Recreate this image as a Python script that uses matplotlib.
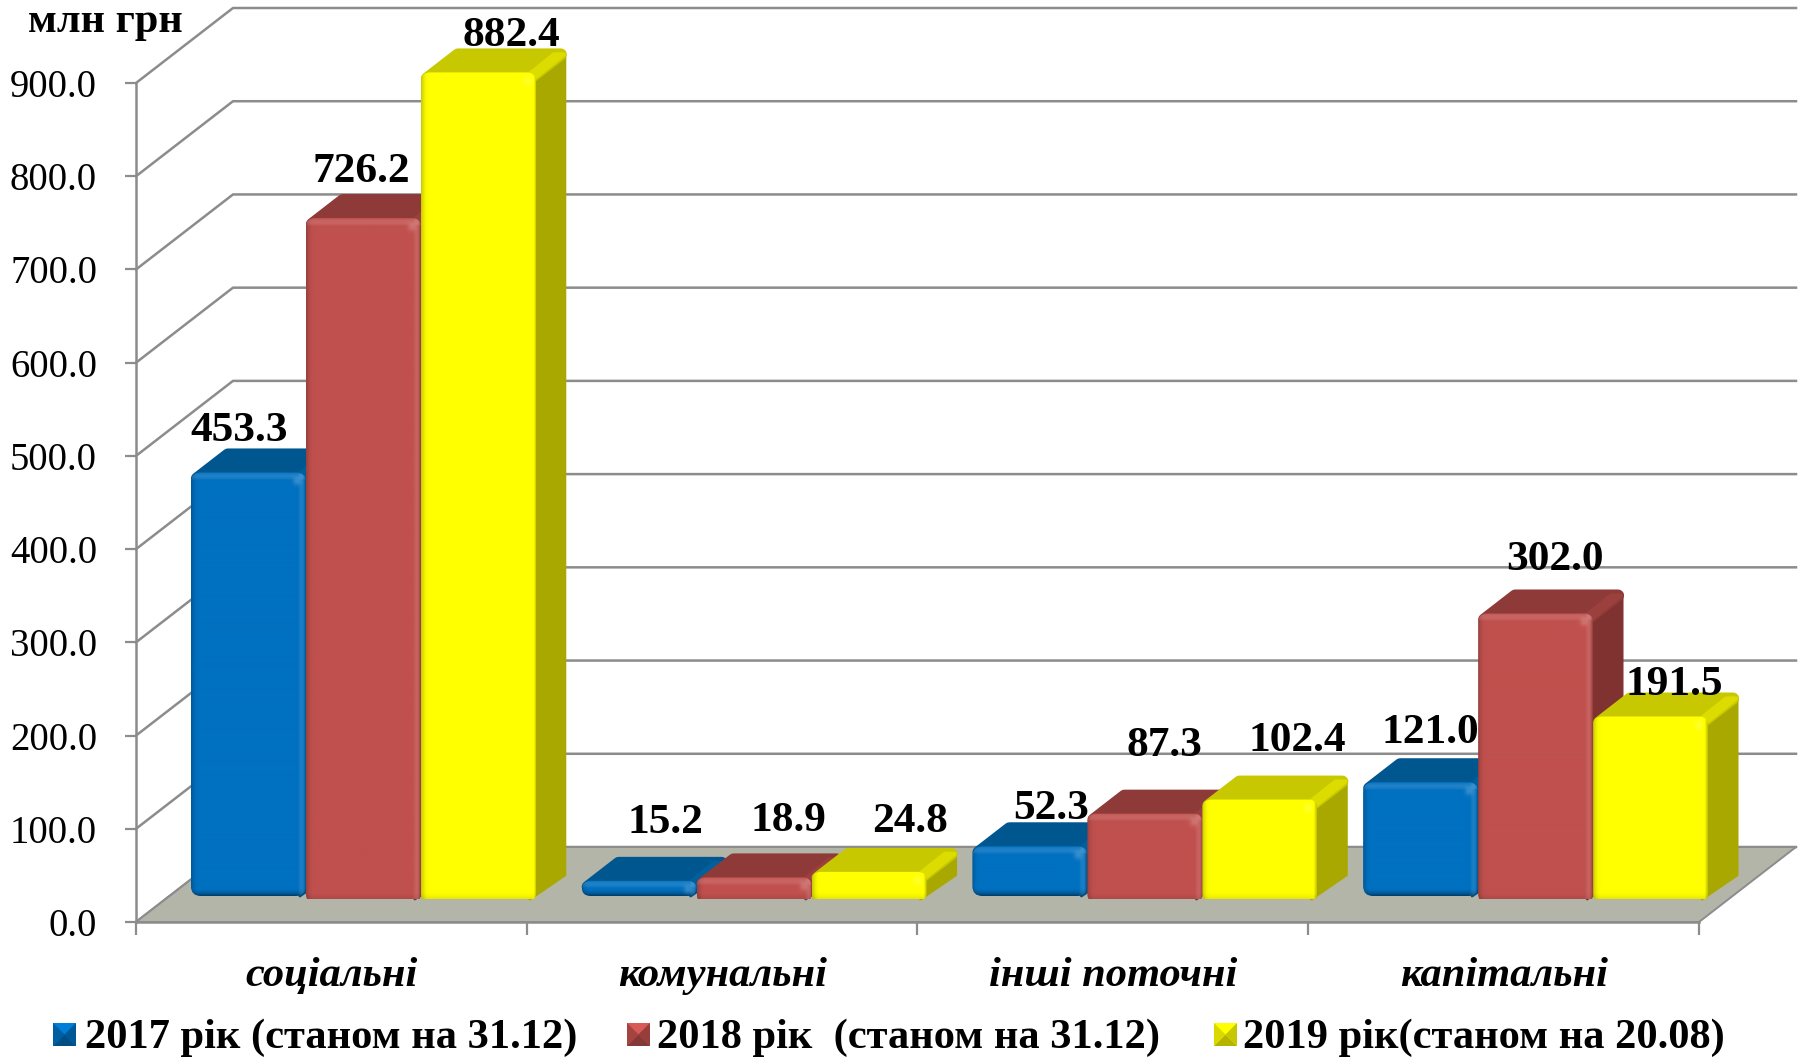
# -*- coding: utf-8 -*-
# bar chart with fake 3D bevelled columns, mln UAH by spending type
import numpy as np
import matplotlib
matplotlib.use('Agg')
import matplotlib.pyplot as plt
from matplotlib.patches import FancyBboxPatch, Polygon

categories = ['соціальні', 'комунальні', 'інші поточні', 'капітальні']
series_names = ['2017 рік (станом на 31.12)', '2018 рік  (станом на 31.12)', '2019 рік(станом на 20.08)']
values_2017 = [453.3, 15.2, 52.3, 121.0]
values_2018 = [726.2, 18.9, 87.3, 302.0]
values_2019 = [882.4, 24.8, 102.4, 191.5]
y_ticks = [0, 100, 200, 300, 400, 500, 600, 700, 800, 900]

# colours: front, top face, side face
colors = [('#0070C0', '#00568F', '#004F85'),
          ('#C0504D', '#8E3A38', '#7F3230'),
          ('#FFFF00', '#C8C800', '#A8A800')]
grid_color = '#8C8C8C'
floor_color = '#B2B5A7'

# label offsets from the top of each bar, in pixels (moved by hand in the original)
label_offsets = [[(-9, 35), (26, 52), (21, 31), (10, 43)],
                 [(-2, 40), (34, 50), (20, 62), (19, 47)],
                 [(33, 30), (41, 44), (37, 53), (24, 25)]]

plt.rcParams['font.family'] = ['Liberation Serif', 'DejaVu Serif']

W, H = 1806, 1058
AX_RIGHT = 1699
fig = plt.figure(figsize=(W / 100, H / 100), dpi=100)
ax = fig.add_axes([136 / W, 1 - 922 / H, (AX_RIGHT - 136) / W, (922 - 83) / H])
ax.set_xlim(0, 4)
ax.set_ylim(0, 900)
ax.autoscale(False)
ax.patch.set_alpha(0)

# pixel sizes expressed in data units
px_x = 4 / (AX_RIGHT - 136)
px_y = 900 / (922 - 83)
depth_x = 97 * px_x
depth_y = 75 * px_y
bar_w = 115 * px_x
front_x = 32 * px_x
front_y = 23 * px_y


def to_data(x, y):
    # figure pixels (from top left) to data values
    return (x - 136) * px_x, (922 - y) * px_y


# walls and floor
for v in y_ticks:
    ax.plot([0, depth_x, 4 + depth_x], [v, v + depth_y, v + depth_y], color=grid_color,
            lw=1.8, zorder=1, clip_on=False)
ax.add_patch(Polygon([(0, 0), (4, 0), (4 + depth_x, depth_y), (depth_x, depth_y)], closed=True,
                     fc=floor_color, ec=grid_color, lw=1.4, zorder=2, clip_on=False))

ax.spines[['top', 'right']].set_visible(False)
ax.spines[['left', 'bottom']].set_color(grid_color)
ax.spines[['left', 'bottom']].set_linewidth(1.8)
ax.spines[['left', 'bottom']].set_zorder(3)
ax.set_yticks(y_ticks)
ax.set_yticklabels(['%.1f' % v for v in y_ticks], fontsize=27.8)
ax.tick_params(axis='y', length=8, width=1.6, color=grid_color, pad=20)
ax.set_xticks(range(5))
ax.set_xticklabels([])
ax.tick_params(axis='x', which='major', length=9, width=1.6, color=grid_color)
ax.set_xticks([0.5, 1.5, 2.5, 3.5], minor=True)
ax.set_xticklabels(categories, minor=True, fontsize=30.6, fontweight='bold', fontstyle='italic')
ax.tick_params(axis='x', which='minor', length=0, pad=25)


def shift(hex_color, factor):
    rgb = np.array(matplotlib.colors.to_rgb(hex_color))
    return np.clip(rgb * factor, 0, 1)


def front_face(x0, x1, y0, y1, color, z, soft):
    # bevelled front of a column, drawn as a shaded image clipped to a rounded box
    w = max(int((x1 - x0) / px_x), 2)
    h = max(int((y1 - y0) / px_y), 2)
    xx, yy = np.meshgrid(np.arange(w) + 0.5, np.arange(h) + 0.5)
    bevel = min(8, h / 2)
    left = np.clip(1 - xx / bevel, 0, 1)
    right = np.clip(1 - (w - xx) / bevel, 0, 1)
    top = np.clip(1 - yy / bevel, 0, 1)
    bottom = np.clip(1 - (h - yy) / bevel, 0, 1)
    base = np.array(matplotlib.colors.to_rgb(color))
    glow = 0.0 if color == '#FFFF00' else 1.0
    dark = 0.22 * left ** 2 + (0.5 if soft else 0.1) * bottom ** 2
    light = glow * (0.12 * top * (1 - top) * 4 + 0.1 * right * (1 - right) * 4)
    dark = dark + 0.25 * np.clip(right - 0.6, 0, 1) / 0.4
    spot = np.exp(-(((xx - (w - 9)) / 4) ** 2 + ((yy - 9) / 4) ** 2))
    light = light + 0.2 * spot
    img = base[None, None, :] * (1 - np.clip(dark, 0, 1))[..., None]
    img = img + (1 - img) * np.clip(light, 0, 1)[..., None]
    im = ax.imshow(img, extent=(x0, x1, y0, y1), origin='upper', aspect='auto',
                   interpolation='bilinear', zorder=z)
    r = min(10 if soft else 9, (h + 3) / 2)
    # square columns sit on the floor: box runs a bit below the image so the foot stays flatter
    drop = 0 if soft else 4 * px_y
    box = FancyBboxPatch((x0, y0 - drop), x1 - x0, y1 - y0 + drop,
                         boxstyle='round,pad=0,rounding_size=%f' % (r * px_x),
                         mutation_aspect=px_y / px_x, fc='none', ec='none',
                         transform=ax.transData, zorder=z, clip_on=False)
    ax.add_patch(box)
    # last column runs past the axes box, so only the rounded shape may clip it
    im.set_clip_box(fig.bbox)
    im.set_clip_path(box)


def column(xc, value, cols, z, soft):
    x0, x1 = xc - bar_w / 2, xc + bar_w / 2
    base = front_y + (3 * px_y if soft else 0)
    # rounded top edge sits slightly above the nominal height
    top = front_y + value + 4 * px_y
    dx, dy = 31 * px_x, 24 * px_y
    rx, ry = 6 * px_x, 6 * px_y
    # side face
    ax.add_patch(Polygon([(x1 - rx, top - ry), (x1 + dx - rx / 3, top + dy - ry), (x1 + dx - rx / 3, base + dy),
                          (x1 - rx, base)], closed=True, fc=cols[2], ec=cols[2], lw=2,
                         joinstyle='round', zorder=z, clip_on=False))
    # top face with a lighter band along the right edge
    ax.add_patch(Polygon([(x0 + rx, top - ry), (x0 + dx + rx, top + dy - ry), (x1 + dx - rx, top + dy - ry),
                          (x1 - rx, top - ry)], closed=True, fc=cols[1], ec=cols[1], lw=8.6,
                         joinstyle='round', zorder=z + 0.1, clip_on=False))
    band = shift(cols[1], 1.1)
    ax.add_patch(Polygon([(x1 - 12 * px_x, top - ry), (x1 - 2 * px_x, top - ry),
                          (x1 + dx - 3 * px_x, top + dy - ry), (x1 + dx - 13 * px_x, top + dy - ry)],
                         closed=True, fc=band, ec=band, lw=3, joinstyle='round',
                         zorder=z + 0.2, clip_on=False))
    front_face(x0, x1, base, top, cols[0], z + 0.3, soft)


all_values = [values_2017, values_2018, values_2019]
z = 5
for i in range(len(categories)):
    for j in range(3):
        xc = i + 0.5 + front_x + (j - 1) * bar_w
        v = all_values[j][i]
        column(xc, v, colors[j], z, j == 0)
        z += 1
        ax.annotate('%.1f' % v, xy=(xc, front_y + v), xytext=label_offsets[j][i],
                    textcoords='offset pixels', ha='center', va='baseline', fontsize=31.2,
                    fontweight='bold', zorder=100, annotation_clip=False)

# unit label
mx, my = to_data(28, 32)
ax.text(mx, my, 'млн грн', fontsize=30.4, fontweight='bold', ha='left', va='baseline', clip_on=False)

# legend, placed by hand like the original
marker_x = [53, 627, 1214]
text_x = [85, 657, 1243]
for j in range(3):
    x0, y0 = to_data(marker_x[j], 1046)
    x1, y1 = to_data(marker_x[j] + 23, 1023)
    xm, ym = (x0 + x1) / 2, (y0 + y1) / 2
    c = colors[j][0]
    ax.add_patch(Polygon([(x0, y0), (x1, y0), (x1, y1), (x0, y1)], closed=True, fc=c, ec='none',
                         zorder=50, clip_on=False))
    ax.add_patch(Polygon([(x0, y1), (x1, y1), (xm, ym)], closed=True, fc=shift(c, 1.12), ec='none',
                         zorder=51, clip_on=False))
    ax.add_patch(Polygon([(x0, y0), (x1, y0), (xm, ym)], closed=True, fc=shift(c, 0.7), ec='none',
                         zorder=51, clip_on=False))
    ax.add_patch(Polygon([(x0, y0), (x0, y1), (xm, ym)], closed=True, fc=shift(c, 0.85), ec='none',
                         zorder=51, clip_on=False))
    ax.add_patch(Polygon([(x1, y0), (x1, y1), (xm, ym)], closed=True, fc=shift(c, 0.78), ec='none',
                         zorder=51, clip_on=False))
    tx, ty = to_data(text_x[j], 1048)
    ax.text(tx, ty, series_names[j], fontsize=30.6, fontweight='bold', ha='left', va='baseline',
            clip_on=False)

fig.savefig('out.png', dpi=100, facecolor='white')
